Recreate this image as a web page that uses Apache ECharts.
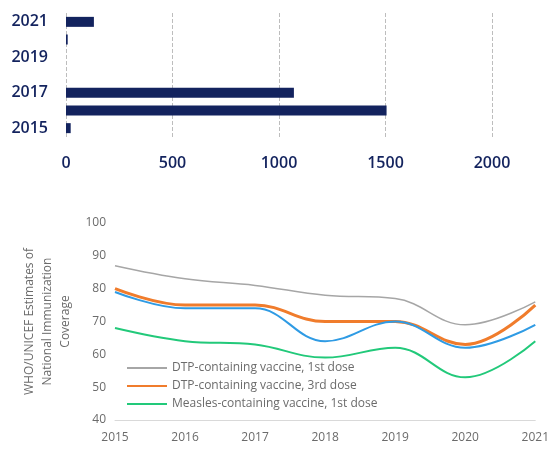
<!DOCTYPE html>
<html><head><meta charset="utf-8">
<script src="https://cdn.jsdelivr.net/npm/echarts@6/dist/echarts.min.js"></script>
<style>html,body{margin:0;padding:0;background:#fff}#c{width:552px;height:449px}</style>
</head><body><div id="c"></div>
<script>
// Top bar chart
const barYears = ['2015','2016','2017','2018','2019','2020','2021'];
const barValues = [22, 1505, 1070, 0, 0, 8, 131];
const barTicks = [0, 500, 1000, 1500, 2000];

// Bottom line chart
const lineYears = ['2015','2016','2017','2018','2019','2020','2021'];
const dtp1 = [87, 83, 81, 78, 77, 69, 76];
const dtp3 = [80, 75, 75, 70, 70, 63, 75];
const blueSeries = [79, 74, 74, 64, 70, 62, 69];
const mcv1 = [68, 64, 63, 59, 62, 53, 64];
const lineTicks = [40, 50, 60, 70, 80, 90, 100];

const navy = '#13235e';
const grayTxt = '#6b6b6b';
const chart = echarts.init(document.getElementById('c'), null, {renderer:'canvas'});
chart.setOption({
  animation: false,
  backgroundColor: '#fff',
  textStyle: {fontFamily: 'Open Sans'},
  legend: {
    data: ['DTP-containing vaccine, 1st dose','DTP-containing vaccine, 3rd dose','Measles-containing vaccine, 1st dose'],
    orient: 'vertical', left: 122, top: 357, itemGap: 6, itemWidth: 40, itemHeight: 12,
    icon: 'path://M0,5 L40,5 L40,7 L0,7 Z',
    textStyle: {color: grayTxt, fontSize: 12, fontFamily: 'Open Sans'}
  },
  grid: [
    {left: 66, right: 60, top: 13, height: 124},
    {left: 115, right: 9, top: 223, height: 197}
  ],
  xAxis: [
    {gridIndex: 0, type: 'value', min: barTicks[0], max: barTicks[barTicks.length-1], interval: 500,
     axisLine: {show: false}, axisTick: {show: false},
     splitLine: {show: true, lineStyle: {type: 'dashed', color: '#bdbdbd', width: 1}},
     axisLabel: {color: navy, fontSize: 16, fontWeight: 600, margin: 18, fontFamily: 'Open Sans',
                 formatter: v => String(v)}},
    {gridIndex: 1, type: 'category', data: lineYears, boundaryGap: false,
     axisLine: {show: true, lineStyle: {color: '#d9d9d9', width: 1}}, axisTick: {show: false},
     axisLabel: {color: grayTxt, fontSize: 12, margin: 12, fontFamily: 'Open Sans'}}
  ],
  yAxis: [
    {gridIndex: 0, type: 'category', data: barYears,
     axisLine: {show: false}, axisTick: {show: false},
     axisLabel: {color: navy, fontSize: 16, fontWeight: 600, margin: 18, interval: 1, fontFamily: 'Open Sans'}},
    {gridIndex: 1, type: 'value', min: 40, max: 100, interval: 10,
     axisLine: {show: false}, axisTick: {show: false}, splitLine: {show: false},
     axisLabel: {color: grayTxt, fontSize: 12, margin: 9, fontFamily: 'Open Sans'},
     name: 'WHO/UNICEF Estimates of\nNational Immunization\nCoverage',
     nameLocation: 'middle', nameGap: 32, nameRotate: 90,
     nameTextStyle: {color: grayTxt, fontSize: 12, lineHeight: 18, align: 'center', fontFamily: 'Open Sans'}}
  ],
  series: [
    {type: 'bar', xAxisIndex: 0, yAxisIndex: 0, data: barValues, barWidth: 10,
     itemStyle: {color: navy}},
    {type: 'line', name: 'DTP-containing vaccine, 1st dose', xAxisIndex: 1, yAxisIndex: 1, data: dtp1,
     smooth: 0.4, symbol: 'none', lineStyle: {color: '#a6a6a6', width: 1.5}, itemStyle: {color: '#a6a6a6'}},
    {type: 'line', name: 'DTP-containing vaccine, 3rd dose', xAxisIndex: 1, yAxisIndex: 1, data: dtp3,
     smooth: 0.4, symbol: 'none', lineStyle: {color: '#f07c2c', width: 3}, itemStyle: {color: '#f07c2c'}},
    {type: 'line', name: 'Other', xAxisIndex: 1, yAxisIndex: 1, data: blueSeries,
     smooth: 0.4, symbol: 'none', lineStyle: {color: '#2f9be4', width: 2}, itemStyle: {color: '#2f9be4'}},
    {type: 'line', name: 'Measles-containing vaccine, 1st dose', xAxisIndex: 1, yAxisIndex: 1, data: mcv1,
     smooth: 0.4, symbol: 'none', lineStyle: {color: '#22c97a', width: 2}, itemStyle: {color: '#22c97a'}}
  ]
});
</script></body></html>
